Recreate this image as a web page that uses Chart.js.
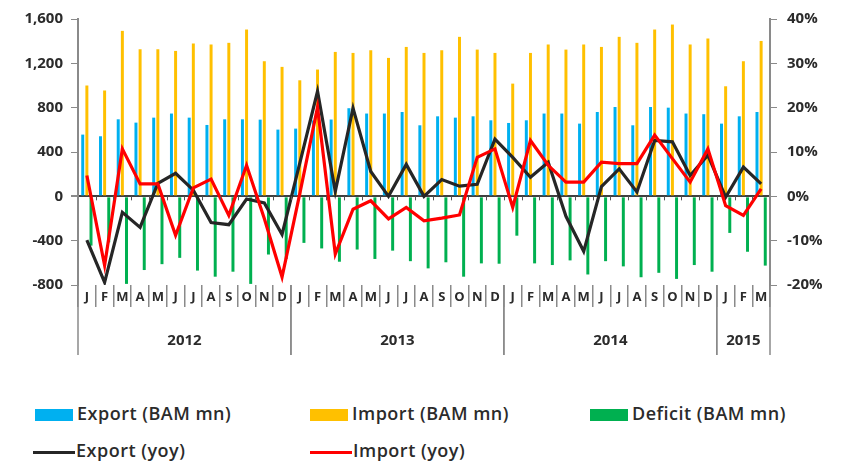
<!DOCTYPE html>
<html>
<head>
<meta charset="utf-8">
<script src="https://cdn.jsdelivr.net/npm/chart.js@4.4.0/dist/chart.umd.min.js"></script>
<style>
  body { margin: 0; background: #fff; }
  #wrap { position: relative; width: 841px; height: 464px; overflow: hidden; }
  #chart { position: absolute; left: 0; top: 0; }
  .lg { position: absolute; height: 20px; font: 600 18px 'Open Sans', sans-serif; letter-spacing: 0.5px; color: #2b2b2b; white-space: nowrap; }
  .lg i { position: absolute; left: 0; }
  .lg span { position: absolute; top: -4px; }
</style>
</head>
<body>
<div id="wrap">
  <canvas id="chart" width="841" height="372"></canvas>
  <div id="legend"></div>
</div>
<script>
// months Jan 2012 .. Mar 2015
var categories = ['J','F','M','A','M','J','J','A','S','O','N','D',
                  'J','F','M','A','M','J','J','A','S','O','N','D',
                  'J','F','M','A','M','J','J','A','S','O','N','D',
                  'J','F','M'];
var years = ['2012', '2013', '2014', '2015'];
var monthsInYear = [12, 12, 12, 3];

// BAM mn
var exportBam = [557, 542, 695, 665, 710, 747, 710, 644, 695, 695, 692, 602,
                 611, 685, 693, 795, 747, 747, 761, 641, 722, 710, 722, 686,
                 662, 686, 747, 747, 656, 761, 806, 641, 806, 800, 747, 741,
                 656, 722, 761];
var importBam = [1000, 955, 1493, 1327, 1327, 1312, 1379, 1370, 1385, 1505, 1219, 1168,
                 1047, 1144, 1303, 1294, 1318, 1249, 1348, 1294, 1318, 1439, 1324, 1294,
                 1017, 1294, 1370, 1324, 1370, 1348, 1439, 1385, 1505, 1550, 1370, 1424,
                 993, 1219, 1402];
var deficitBam = [-445, -415, -790, -665, -612, -555, -670, -725, -680, -790, -525, -565,
                  -420, -470, -590, -480, -565, -490, -585, -650, -595, -725, -605, -608,
                  -355, -605, -620, -578, -705, -585, -632, -730, -690, -745, -620, -680,
                  -330, -500, -625];

// year on year, %
var exportYoy = [-9.9, -19.4, -3.6, -7.0, 2.9, 5.2, 1.4, -5.9, -6.4, -0.6, -1.5, -8.6,
                 7.5, 23.7, 1.1, 19.9, 5.6, 0.0, 7.2, 0.0, 3.8, 2.3, 2.7, 12.9,
                 8.8, 4.3, 7.7, -4.5, -12.4, 2.2, 6.2, 1.0, 12.6, 12.3, 4.7, 9.3,
                 -0.2, 6.6, 2.8];
var importYoy = [4.7, -15.6, 10.7, 2.8, 2.8, -8.8, 1.9, 3.9, -4.3, 7.0, -5.0, -18.2,
                 0.6, 20.1, -13.0, -2.9, -1.0, -5.1, -2.5, -5.5, -4.9, -4.2, 8.8, 10.7,
                 -2.5, 12.6, 7.0, 3.2, 3.2, 7.7, 7.4, 7.4, 13.8, 8.5, 3.2, 10.7,
                 -2.1, -4.3, 1.7];

var leftTicks = [-800, -400, 0, 400, 800, 1200, 1600];
var rightTicks = [-20, -10, 0, 10, 20, 30, 40];

var textColor = '#2b2b2b';
var axisColor = '#8a8a8a';

// year labels and long separators under the month labels, small ticks on the zero line
var yearBands = {
  id: 'yearBands',
  afterDraw: function(chart) {
    var ctx = chart.ctx, x = chart.scales.x, y = chart.scales.y;
    var half = (x.getPixelForValue(1) - x.getPixelForValue(0)) / 2;
    var zeroY = y.getPixelForValue(0);
    var bottom = chart.chartArea.bottom;
    ctx.save();
    ctx.strokeStyle = '#555';
    ctx.lineWidth = 1;
    for (var i = 1; i < categories.length; i++) {
      var px = Math.round(x.getPixelForValue(i) - half) + 0.5;
      ctx.beginPath(); ctx.moveTo(px, zeroY); ctx.lineTo(px, zeroY + 4); ctx.stroke();
    }
    ctx.strokeStyle = axisColor;
    ctx.lineWidth = 1.5;
    ctx.fillStyle = textColor;
    ctx.font = 'bold 15px "Open Sans"';
    ctx.textAlign = 'center';
    ctx.textBaseline = 'middle';
    var start = 0;
    years.forEach(function(yr, k) {
      var l = x.getPixelForValue(start) - half;
      var r = x.getPixelForValue(start + monthsInYear[k] - 1) + half;
      [l, r].forEach(function(p) {
        ctx.beginPath(); ctx.moveTo(p, bottom); ctx.lineTo(p, bottom + 70); ctx.stroke();
      });
      ctx.fillText(yr, (l + r) / 2, bottom + 56);
      start += monthsInYear[k];
    });
    ctx.restore();
  }
};

var tickFont = { family: 'Open Sans', weight: 'bold', size: 15 };

var chart = new Chart(document.getElementById('chart').getContext('2d'), {
  type: 'bar',
  data: {
    labels: categories,
    datasets: [
      { label: 'Export (BAM mn)', data: exportBam, backgroundColor: '#00b0f0', yAxisID: 'y', order: 2 },
      { label: 'Import (BAM mn)', data: importBam, backgroundColor: '#ffc000', yAxisID: 'y', order: 2 },
      { label: 'Deficit (BAM mn)', data: deficitBam, backgroundColor: '#00b050', yAxisID: 'y', order: 2 },
      { type: 'line', label: 'Export (yoy)', data: exportYoy, borderColor: '#262626', backgroundColor: '#262626',
        borderWidth: 3.2, pointRadius: 0, tension: 0, yAxisID: 'y1', order: 1 },
      { type: 'line', label: 'Import (yoy)', data: importYoy, borderColor: '#ff0000', backgroundColor: '#ff0000',
        borderWidth: 3.2, pointRadius: 0, tension: 0, yAxisID: 'y1', order: 0 }
    ]
  },
  options: {
    responsive: false,
    animation: false,
    layout: { padding: { top: 16, left: 0, right: 0, bottom: 0 } },
    datasets: { bar: { categoryPercentage: 0.7, barPercentage: 0.72 } },
    plugins: { legend: { display: false }, tooltip: { enabled: false } },
    scales: {
      x: {
        border: { display: false },
        grid: { drawOnChartArea: false, drawTicks: true, tickLength: 22, color: axisColor, lineWidth: 1.5, offset: true },
        ticks: { autoSkip: false, maxRotation: 0, padding: -18, color: textColor, font: { family: 'Open Sans', weight: 'bold', size: 13 } },
        afterFit: function(s) { s.height = 87; }
      },
      y: {
        position: 'left',
        min: leftTicks[0], max: leftTicks[leftTicks.length - 1],
        afterBuildTicks: function(s) { s.ticks = leftTicks.map(function(v) { return { value: v }; }); },
        border: { display: true, color: axisColor, width: 2 },
        grid: {
          drawTicks: true, tickLength: 7, tickColor: axisColor,
          color: function(c) { return c.tick && c.tick.value === 0 ? '#404040' : 'rgba(0,0,0,0)'; },
          lineWidth: function(c) { return c.tick && c.tick.value === 0 ? 2 : 1; }
        },
        ticks: { padding: 8, color: textColor, font: tickFont,
          callback: function(v) { return v.toLocaleString('en-US'); } },
        afterFit: function(s) { s.width = 78; }
      },
      y1: {
        position: 'right',
        min: rightTicks[0], max: rightTicks[rightTicks.length - 1],
        afterBuildTicks: function(s) { s.ticks = rightTicks.map(function(v) { return { value: v }; }); },
        border: { display: true, color: axisColor, width: 2 },
        grid: { drawOnChartArea: false, drawTicks: true, tickLength: 7, color: axisColor },
        ticks: { padding: 10, color: textColor, font: tickFont,
          callback: function(v) { return v + '%'; } },
        afterFit: function(s) { s.width = 71; }
      }
    }
  },
  plugins: [yearBands]
});

// legend laid out in the same three columns as the source
var legendSlots = [[35, 415], [310, 415], [590, 415], [33, 452], [310, 452]];
var legend = document.getElementById('legend');
chart.data.datasets.forEach(function(ds, i) {
  var item = document.createElement('div');
  item.className = 'lg';
  var isLine = ds.type === 'line';
  var mark = document.createElement('i');
  mark.style.background = ds.backgroundColor;
  mark.style.width = (isLine ? 42 : 38) + 'px';
  mark.style.height = (isLine ? 3 : 12) + 'px';
  mark.style.top = (isLine ? 9 : 4) + 'px';
  var txt = document.createElement('span');
  txt.textContent = ds.label;
  txt.style.left = (isLine ? 43 : 42) + 'px';
  item.appendChild(mark);
  item.appendChild(txt);
  item.style.left = legendSlots[i][0] + 'px';
  item.style.top = (legendSlots[i][1] - 10) + 'px';
  legend.appendChild(item);
});
</script>
</body>
</html>
